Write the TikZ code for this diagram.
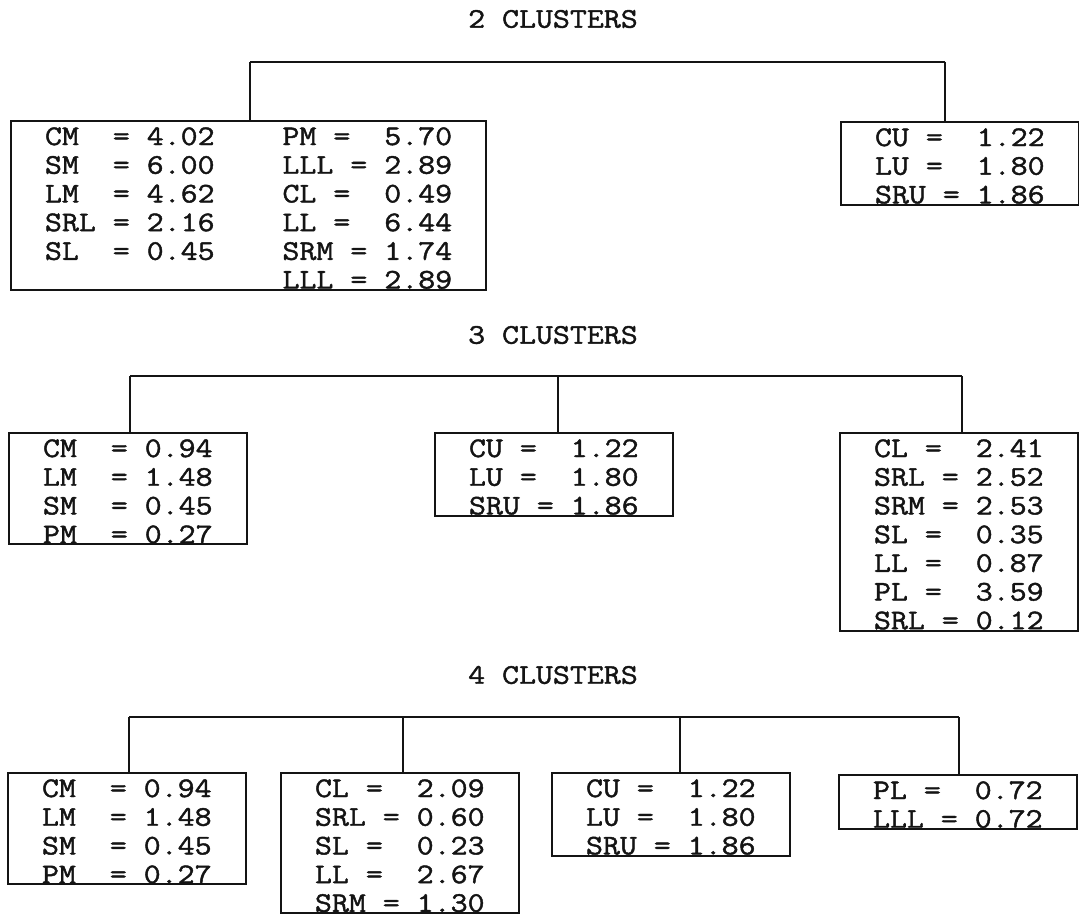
\documentclass[tikz,border=0pt]{standalone}
\usepackage{fontspec}
\newfontfamily\typer{Latin Modern Mono}[FakeStretch=1.16,FakeBold=1.5,WordSpace={1,0,0}]
\definecolor{scanink}{HTML}{141414}
\newcommand{\toprow}{\rule{0pt}{11.5pt}}

\begin{document}
\begin{tikzpicture}[x=0.5pt,y=-0.5pt,color=scanink,
  font=\typer\fontsize{14.2pt}{14.35pt}\selectfont,
  cluster/.style={draw,line width=1pt,anchor=north west,align=left,
    inner xsep=17pt,inner ysep=0.5pt},
  link/.style={draw,line width=1pt}]
  \useasboundingbox (0,0) rectangle (1079,918);
  \foreach \n/\y in {2/19,3/335,4/675}
    \node (t\n) at (553,\y) {\n~CLUSTERS};

  % 2 clusters
  \node[cluster] (c2a) at (10,120) {\toprow CM~~=~4.02~~~~PM~=~~5.70\\
    SM~~=~6.00~~~~LLL~=~2.89\\
    LM~~=~4.62~~~~CL~=~~0.49\\
    SRL~=~2.16~~~~LL~=~~6.44\\
    SL~~=~0.45~~~~SRM~=~1.74\\
    ~~~~~~~~~~~~~~LLL~=~2.89};
  \node[cluster] (c2b) at (840,121) {\toprow CU~=~~1.22\\
    LU~=~~1.80\\
    SRU~=~1.86};
  \coordinate (j2a) at (250,61.5);
  \coordinate (j2b) at (945,61.5);
  \draw[link] (j2a) -- (j2b);
  \foreach \k in {a,b} \draw[link] (j2\k) -- (j2\k |- c2\k.north);

  % 3 clusters
  \node[cluster] (c3a) at (8,432) {\toprow CM~~=~0.94\\
    LM~~=~1.48\\
    SM~~=~0.45\\
    PM~~=~0.27};
  \node[cluster] (c3b) at (434,432) {\toprow CU~=~~1.22\\
    LU~=~~1.80\\
    SRU~=~1.86};
  \node[cluster] (c3c) at (839,432) {\toprow CL~=~~2.41\\
    SRL~=~2.52\\
    SRM~=~2.53\\
    SL~=~~0.35\\
    LL~=~~0.87\\
    PL~=~~3.59\\
    SRL~=~0.12};
  \coordinate (j3a) at (130,376);
  \coordinate (j3b) at (558,376);
  \coordinate (j3c) at (962,376);
  \draw[link] (j3a) -- (j3c);
  \foreach \k in {a,b,c} \draw[link] (j3\k) -- (j3\k |- c3\k.north);

  % 4 clusters
  \node[cluster] (c4a) at (7,772) {\toprow CM~~=~0.94\\
    LM~~=~1.48\\
    SM~~=~0.45\\
    PM~~=~0.27};
  \node[cluster] (c4b) at (280,772) {\toprow CL~=~~2.09\\
    SRL~=~0.60\\
    SL~=~~0.23\\
    LL~=~~2.67\\
    SRM~=~1.30};
  \node[cluster] (c4c) at (551,772) {\toprow CU~=~~1.22\\
    LU~=~~1.80\\
    SRU~=~1.86};
  \node[cluster] (c4d) at (838,774) {\toprow PL~=~~0.72\\
    LLL~=~0.72};
  \coordinate (j4a) at (129,717);
  \coordinate (j4b) at (403,717);
  \coordinate (j4c) at (680,717);
  \coordinate (j4d) at (959,717);
  \draw[link] (j4a) -- (j4d);
  \foreach \k in {a,b,c,d} \draw[link] (j4\k) -- (j4\k |- c4\k.north);
\end{tikzpicture}
\end{document}
